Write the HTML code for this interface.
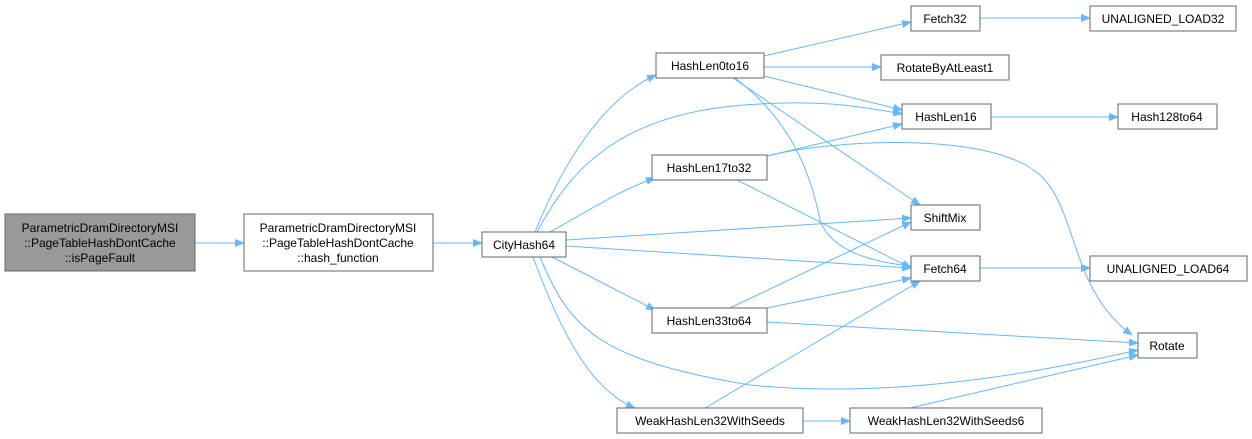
<!DOCTYPE html>
<html><head><meta charset="utf-8"><style>
body{margin:0;background:#fff;}
svg{display:block;font-family:"Liberation Sans",Arial,sans-serif;font-size:12px;}
.n{fill:#fff;stroke:#666;stroke-width:1;}
.e{fill:none;stroke:#63b8ff;stroke-width:1;marker-end:url(#a);}
text{fill:#000;text-anchor:middle;}
</style></head><body>
<svg width="1252" height="439" viewBox="0 0 1252 439" xmlns="http://www.w3.org/2000/svg">
<defs><marker id="a" markerWidth="10" markerHeight="8" refX="9" refY="4" orient="auto" markerUnits="userSpaceOnUse"><path d="M0,0 L10,4 L0,8 z" fill="#63b8ff"/></marker></defs>
<path class="e" d="M195,243 L244,243"/>
<path class="e" d="M433,243 L482,243"/>
<path class="e" d="M535,232 C560,170 600,100 656,75"/>
<path class="e" d="M537,232 C570,170 620,110 760,104 C830,100 870,108 902,114"/>
<path class="e" d="M550,232 C590,210 620,190 655,178"/>
<path class="e" d="M566,240 L911,218"/>
<path class="e" d="M566,246 L911,268"/>
<path class="e" d="M552,257 L655,310"/>
<path class="e" d="M540,257 C570,330 600,360 750,385 C900,400 1050,370 1138,350"/>
<path class="e" d="M533,257 C560,330 590,390 635,408"/>
<path class="e" d="M764,56 L911,22"/>
<path class="e" d="M764,67 L881,67"/>
<path class="e" d="M764,76 L902,110"/>
<path class="e" d="M733,78 L920,205"/>
<path class="e" d="M735,78 C790,120 810,170 820,220 C830,250 870,262 911,266"/>
<path class="e" d="M767,156 L902,124"/>
<path class="e" d="M767,156 C830,140 990,130 1040,175 C1078,210 1070,290 1132,335"/>
<path class="e" d="M737,180 L911,268"/>
<path class="e" d="M730,308 L911,222"/>
<path class="e" d="M767,308 L911,278"/>
<path class="e" d="M767,322 L1138,343"/>
<path class="e" d="M705,408 L920,281"/>
<path class="e" d="M803,421 L850,421"/>
<path class="e" d="M910,408 L1138,355"/>
<path class="e" d="M980,18 L1090,18"/>
<path class="e" d="M991,117 L1118,117"/>
<path class="e" d="M980,268 L1090,268"/>

<rect x="5" y="214" width="190" height="57" fill="#999" stroke="#666"/>
<text x="100" y="232">ParametricDramDirectoryMSI</text>
<text x="100" y="247">::PageTableHashDontCache</text>
<text x="100" y="262">::isPageFault</text>
<rect class="n" x="244" y="214" width="189" height="57"/>
<text x="338" y="232">ParametricDramDirectoryMSI</text>
<text x="338" y="247">::PageTableHashDontCache</text>
<text x="338" y="262">::hash_function</text>
<rect class="n" x="482" y="232" width="84" height="25"/><text x="524" y="249">CityHash64</text>
<rect class="n" x="656" y="53" width="108" height="25"/><text x="710" y="70">HashLen0to16</text>
<rect class="n" x="652" y="155" width="115" height="25"/><text x="709" y="172">HashLen17to32</text>
<rect class="n" x="652" y="308" width="115" height="25"/><text x="709" y="325">HashLen33to64</text>
<rect class="n" x="617" y="408" width="186" height="25"/><text x="710" y="425">WeakHashLen32WithSeeds</text>
<rect class="n" x="911" y="6" width="69" height="25"/><text x="945" y="23">Fetch32</text>
<rect class="n" x="881" y="55" width="128" height="25"/><text x="945" y="72">RotateByAtLeast1</text>
<rect class="n" x="902" y="104" width="89" height="25"/><text x="946" y="121">HashLen16</text>
<rect class="n" x="911" y="205" width="69" height="25"/><text x="945" y="222">ShiftMix</text>
<rect class="n" x="911" y="256" width="69" height="25"/><text x="945" y="273">Fetch64</text>
<rect class="n" x="850" y="408" width="192" height="25"/><text x="946" y="425">WeakHashLen32WithSeeds6</text>
<rect class="n" x="1090" y="6" width="146" height="25"/><text x="1163" y="23">UNALIGNED_LOAD32</text>
<rect class="n" x="1118" y="104" width="99" height="25"/><text x="1167" y="121">Hash128to64</text>
<rect class="n" x="1090" y="256" width="157" height="25"/><text x="1168" y="273">UNALIGNED_LOAD64</text>
<rect class="n" x="1138" y="333" width="59" height="25"/><text x="1167" y="350">Rotate</text>
</svg>
</body></html>
